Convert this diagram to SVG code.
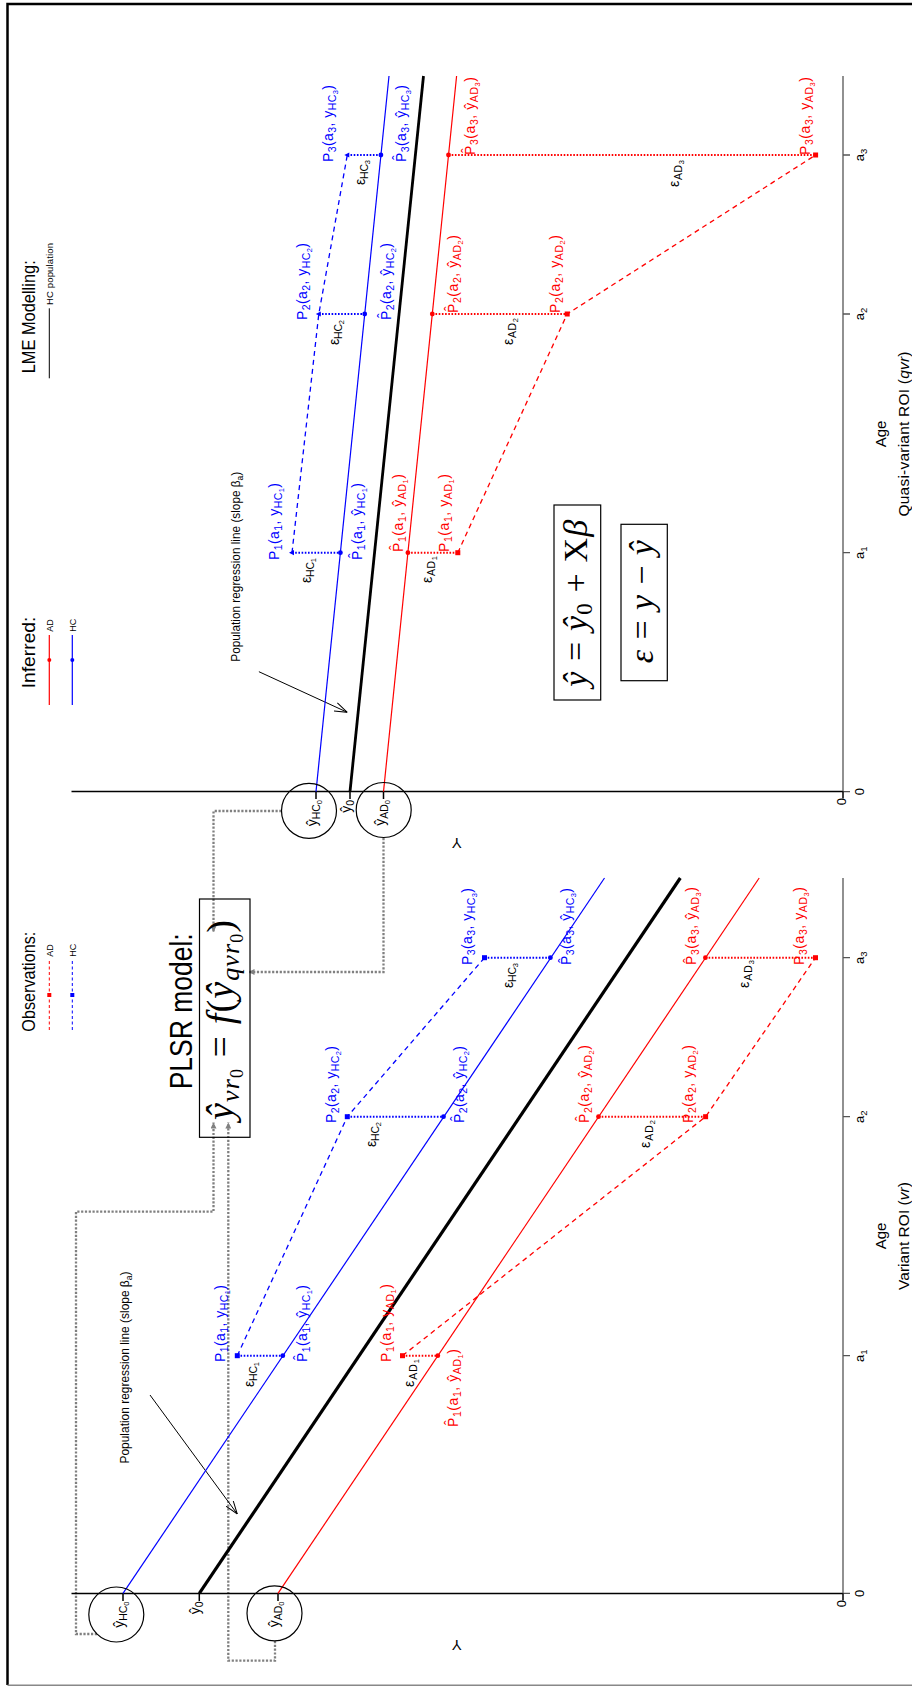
<svg xmlns="http://www.w3.org/2000/svg" width="912" height="1686" viewBox="0 0 912 1686">
<style>
.t{font-family:"Liberation Sans",Arial,sans-serif}
.lb{font-size:14px}
.s{font-size:10.5px}
.ss{font-size:7.5px}
.hc{fill:#0000ff}.ad{fill:#ff0000}.k{fill:#000}
.mth{font-family:"Liberation Serif","Times New Roman",serif}
.gr{fill:none;stroke:#808080;stroke-width:2.3;stroke-dasharray:2.2 1.6}
.res{fill:none;stroke-width:2;stroke-dasharray:1.6 1.6}
.obs{fill:none;stroke-width:1.3;stroke-dasharray:5 4}
.ln{fill:none;stroke-width:1.2}
.thick{fill:none;stroke:#000;stroke-width:3.2}
.ax{fill:none;stroke:#000;stroke-width:1.5}
.xax{fill:none;stroke:#555;stroke-width:1.3}
.ell{fill:none;stroke:#000;stroke-width:1.2}
.box{fill:none;stroke:#000;stroke-width:1.2}
</style>
<defs>
<marker id="ga" viewBox="0 0 6 6" refX="6" refY="3" markerWidth="6" markerHeight="6" markerUnits="userSpaceOnUse" orient="auto"><path d="M0,0 L6,3 L0,6 z" fill="#808080"/></marker>
<marker id="oa" viewBox="0 0 13 10" refX="13" refY="5" markerWidth="13" markerHeight="10" markerUnits="userSpaceOnUse" orient="auto"><path d="M0,0.5 L13,5 L0,9.5" fill="none" stroke="#000" stroke-width="1"/></marker>
</defs>
<rect width="912" height="1686" fill="#fff"/>
<g id="frame">
<path d="M912,4 H7.5 V1685" fill="none" stroke="#000" stroke-width="2.5"/>
<path d="M7.5,1685.3 H912" fill="none" stroke="#888" stroke-width="1.5"/>
</g>

<g id="connectors">
<path class="gr" d="M281.5,811 H213.5 V932" marker-end="url(#ga)"/>
<path class="gr" d="M383.5,838 V972 H248.5" marker-end="url(#ga)"/>
<path class="gr" d="M97,1634 H76 V1211.7 H213.5 V1122.5" marker-end="url(#ga)"/>
<path class="gr" d="M275,1641 V1660.7 H228.3 V1122.5" marker-end="url(#ga)"/>
<path d="M258.9,671.7 L347.3,712.3" stroke="#000" stroke-width="1" marker-end="url(#oa)"/>
<path d="M150,1395 L237.3,1514" stroke="#000" stroke-width="1" marker-end="url(#oa)"/>
</g>

<g id="upper-axes">
<path class="ax" d="M71.5,791.6 H843"/>
<path class="xax" d="M843,76 V791.6"/>
<path class="xax" d="M843,791.6 h7 M843,552.7 h7 M843,314 h7 M843,155 h7"/>
<path class="ax" d="M316,791.6 v7.5 M350,791.6 v7.5 M383.5,791.6 v7.5 M843,791.6 v7"/>
<g class="t" font-size="13" text-anchor="middle">
<text transform="translate(864,791.6) rotate(-90)">0</text>
<text transform="translate(864,552.7) rotate(-90)">a<tspan font-size="9.5" dy="3">1</tspan></text>
<text transform="translate(864,314) rotate(-90)">a<tspan font-size="9.5" dy="3">2</tspan></text>
<text transform="translate(864,155) rotate(-90)">a<tspan font-size="9.5" dy="3">3</tspan></text>
</g>
<g class="t lb" text-anchor="end">
<text transform="translate(317,800) rotate(-90)">ŷ<tspan class="s" dy="3">HC</tspan><tspan class="ss" dy="2">0</tspan></text>
<text transform="translate(351,800) rotate(-90)">ŷ<tspan class="s" dy="3">0</tspan></text>
<text transform="translate(384.5,800) rotate(-90)">ŷ<tspan class="s" dy="3">AD</tspan><tspan class="ss" dy="2">0</tspan></text>
<text transform="translate(846,798) rotate(-90)" font-size="13">0</text>
</g>
<text class="t" font-size="15" text-anchor="middle" dominant-baseline="central" transform="translate(456.7,843.3) rotate(180)">Y</text>
<text class="t" font-size="15" text-anchor="middle" transform="translate(886,434) rotate(-90)">Age</text>
<text class="t" font-size="15.5" text-anchor="middle" textLength="165" transform="translate(909,434) rotate(-90)">Quasi-variant ROI (<tspan font-style="italic">qvr</tspan>)</text>
</g>

<g id="lower-axes">
<path class="ax" d="M71.5,1593.4 H843"/>
<path class="xax" d="M843,878 V1593.4"/>
<path class="xax" d="M843,1593.4 h7 M843,1355.7 h7 M843,1116.7 h7 M843,957.7 h7"/>
<path class="ax" d="M123,1593.4 v7.5 M199.3,1593.4 v7.5 M278,1593.4 v7.5 M843,1593.4 v7"/>
<g class="t" font-size="13" text-anchor="middle">
<text transform="translate(864,1593.4) rotate(-90)">0</text>
<text transform="translate(864,1355.7) rotate(-90)">a<tspan font-size="9.5" dy="3">1</tspan></text>
<text transform="translate(864,1116.7) rotate(-90)">a<tspan font-size="9.5" dy="3">2</tspan></text>
<text transform="translate(864,957.7) rotate(-90)">a<tspan font-size="9.5" dy="3">3</tspan></text>
</g>
<g class="t lb" text-anchor="end">
<text transform="translate(124,1601.5) rotate(-90)">ŷ<tspan class="s" dy="3">HC</tspan><tspan class="ss" dy="2">0</tspan></text>
<text transform="translate(200.3,1601.5) rotate(-90)">ŷ<tspan class="s" dy="3">0</tspan></text>
<text transform="translate(279,1601.5) rotate(-90)">ŷ<tspan class="s" dy="3">AD</tspan><tspan class="ss" dy="2">0</tspan></text>
<text transform="translate(846,1600) rotate(-90)" font-size="13">0</text>
</g>
<text class="t" font-size="15" text-anchor="middle" dominant-baseline="central" transform="translate(456.7,1645.3) rotate(180)">Y</text>
<text class="t" font-size="15" text-anchor="middle" transform="translate(886,1236) rotate(-90)">Age</text>
<text class="t" font-size="15.5" text-anchor="middle" textLength="108" transform="translate(909,1236) rotate(-90)">Variant ROI (<tspan font-style="italic">vr</tspan>)</text>
</g>

<g id="upper-lines">
<path class="ln" stroke="#0000ff" d="M316,791.6 L389,76"/>
<path class="thick" d="M350,791.6 L423.5,76" style="stroke-width:2.8"/>
<path class="ln" stroke="#ff0000" d="M383.5,791.6 L456.6,76"/>
<path class="obs" stroke="#0000ff" d="M292,552.7 L318.8,314 L347.3,155"/>
<path class="obs" stroke="#ff0000" d="M457.8,552.7 L567.2,314 L815.6,155"/>
<path class="res" stroke="#0000ff" d="M292,552.7 H340.4 M318.8,314 H364.7 M347.3,155 H380.9"/>
<path class="res" stroke="#ff0000" d="M407.9,552.7 H457.8 M432.3,314 H567.2 M448.5,155 H815.6"/>
<g fill="#0000ff">
<circle cx="340.4" cy="552.7" r="2.4"/><circle cx="364.7" cy="314" r="2.4"/><circle cx="380.9" cy="155" r="2.4"/>
<path d="M289,552.7 l5,-2.6 v5.2 z M315.8,314 l5,-2.6 v5.2 z M344.3,155 l5,-2.6 v5.2 z"/>
</g>
<g fill="#ff0000">
<circle cx="407.9" cy="552.7" r="2.4"/><circle cx="432.3" cy="314" r="2.4"/><circle cx="448.5" cy="155" r="2.4"/>
<rect x="455.3" y="550.2" width="5" height="5"/><rect x="564.7" y="311.5" width="5" height="5"/><rect x="813.1" y="152.5" width="5" height="5"/>
</g>
</g>

<g id="lower-lines">
<path class="ln" stroke="#0000ff" d="M123,1593.4 L604.5,878"/>
<path class="thick" d="M199.3,1593.4 L680.3,878"/>
<path class="ln" stroke="#ff0000" d="M278,1593.4 L759.2,878"/>
<path class="obs" stroke="#0000ff" d="M237.3,1355.7 L347.3,1116.7 L484.5,957.7"/>
<path class="obs" stroke="#ff0000" d="M402.5,1355.7 L705.6,1116.7 L815.5,957.7"/>
<path class="res" stroke="#0000ff" d="M237.3,1355.7 H282.8 M347.3,1116.7 H443.5 M484.5,957.7 H550.4"/>
<path class="res" stroke="#ff0000" d="M402.5,1355.7 H437.8 M598.5,1116.7 H705.6 M705.4,957.7 H815.5"/>
<g fill="#0000ff">
<circle cx="282.8" cy="1355.7" r="2.4"/><circle cx="443.5" cy="1116.7" r="2.4"/><circle cx="550.4" cy="957.7" r="2.4"/>
<rect x="234.8" y="1353.2" width="5" height="5"/><rect x="344.8" y="1114.2" width="5" height="5"/><rect x="482" y="955.2" width="5" height="5"/>
</g>
<g fill="#ff0000">
<circle cx="437.8" cy="1355.7" r="2.4"/><circle cx="598.5" cy="1116.7" r="2.4"/><circle cx="705.4" cy="957.7" r="2.4"/>
<rect x="400" y="1353.2" width="5" height="5"/><rect x="703.1" y="1114.2" width="5" height="5"/><rect x="813" y="955.2" width="5" height="5"/>
</g>
</g>

<g id="node-upper-hc0"><circle class="ell" cx="309" cy="810.8" r="27.5"/></g>
<g id="node-upper-ad0"><circle class="ell" cx="383.7" cy="810" r="27.5"/></g>
<g id="node-lower-hc0"><circle class="ell" cx="116.3" cy="1614.5" r="27.5"/></g>
<g id="node-lower-ad0"><circle class="ell" cx="274.5" cy="1613.3" r="27.5"/></g>

<g id="upper-labels" class="t lb">
<text class="hc" textLength="77" transform="translate(332.5,162) rotate(-90)">P<tspan class="s" dy="3">3</tspan><tspan dy="-3">(a</tspan><tspan class="s" dy="3">3</tspan><tspan dy="-3">, y</tspan><tspan class="s" dy="3">HC</tspan><tspan class="ss" dy="2">3</tspan><tspan dy="-5">)</tspan></text>
<text class="hc" textLength="77" transform="translate(405.5,162) rotate(-90)">P̂<tspan class="s" dy="3">3</tspan><tspan dy="-3">(a</tspan><tspan class="s" dy="3">3</tspan><tspan dy="-3">, ŷ</tspan><tspan class="s" dy="3">HC</tspan><tspan class="ss" dy="2">3</tspan><tspan dy="-5">)</tspan></text>
<text class="hc" textLength="77" transform="translate(306.5,320) rotate(-90)">P<tspan class="s" dy="3">2</tspan><tspan dy="-3">(a</tspan><tspan class="s" dy="3">2</tspan><tspan dy="-3">, y</tspan><tspan class="s" dy="3">HC</tspan><tspan class="ss" dy="2">2</tspan><tspan dy="-5">)</tspan></text>
<text class="hc" textLength="77" transform="translate(390.5,320) rotate(-90)">P̂<tspan class="s" dy="3">2</tspan><tspan dy="-3">(a</tspan><tspan class="s" dy="3">2</tspan><tspan dy="-3">, ŷ</tspan><tspan class="s" dy="3">HC</tspan><tspan class="ss" dy="2">2</tspan><tspan dy="-5">)</tspan></text>
<text class="hc" textLength="77" transform="translate(278.5,560) rotate(-90)">P<tspan class="s" dy="3">1</tspan><tspan dy="-3">(a</tspan><tspan class="s" dy="3">1</tspan><tspan dy="-3">, y</tspan><tspan class="s" dy="3">HC</tspan><tspan class="ss" dy="2">1</tspan><tspan dy="-5">)</tspan></text>
<text class="hc" textLength="77" transform="translate(361.5,560) rotate(-90)">P̂<tspan class="s" dy="3">1</tspan><tspan dy="-3">(a</tspan><tspan class="s" dy="3">1</tspan><tspan dy="-3">, ŷ</tspan><tspan class="s" dy="3">HC</tspan><tspan class="ss" dy="2">1</tspan><tspan dy="-5">)</tspan></text>
<text class="k" textLength="25" transform="translate(364.5,185) rotate(-90)">ε<tspan class="s" dy="3">HC</tspan><tspan class="ss" dy="2">3</tspan></text>
<text class="k" textLength="25" transform="translate(338.5,345) rotate(-90)">ε<tspan class="s" dy="3">HC</tspan><tspan class="ss" dy="2">2</tspan></text>
<text class="k" textLength="25" transform="translate(310.5,583) rotate(-90)">ε<tspan class="s" dy="3">HC</tspan><tspan class="ss" dy="2">1</tspan></text>
<text class="ad" textLength="78" transform="translate(474.5,155) rotate(-90)">P̂<tspan class="s" dy="3">3</tspan><tspan dy="-3">(a</tspan><tspan class="s" dy="3">3</tspan><tspan dy="-3">, ŷ</tspan><tspan class="s" dy="3">AD</tspan><tspan class="ss" dy="2">3</tspan><tspan dy="-5">)</tspan></text>
<text class="ad" textLength="78" transform="translate(809.5,155) rotate(-90)">P<tspan class="s" dy="3">3</tspan><tspan dy="-3">(a</tspan><tspan class="s" dy="3">3</tspan><tspan dy="-3">, y</tspan><tspan class="s" dy="3">AD</tspan><tspan class="ss" dy="2">3</tspan><tspan dy="-5">)</tspan></text>
<text class="ad" textLength="78" transform="translate(457.5,313) rotate(-90)">P̂<tspan class="s" dy="3">2</tspan><tspan dy="-3">(a</tspan><tspan class="s" dy="3">2</tspan><tspan dy="-3">, ŷ</tspan><tspan class="s" dy="3">AD</tspan><tspan class="ss" dy="2">2</tspan><tspan dy="-5">)</tspan></text>
<text class="ad" textLength="78" transform="translate(559.5,313) rotate(-90)">P<tspan class="s" dy="3">2</tspan><tspan dy="-3">(a</tspan><tspan class="s" dy="3">2</tspan><tspan dy="-3">, y</tspan><tspan class="s" dy="3">AD</tspan><tspan class="ss" dy="2">2</tspan><tspan dy="-5">)</tspan></text>
<text class="ad" textLength="78" transform="translate(402.5,552) rotate(-90)">P̂<tspan class="s" dy="3">1</tspan><tspan dy="-3">(a</tspan><tspan class="s" dy="3">1</tspan><tspan dy="-3">, ŷ</tspan><tspan class="s" dy="3">AD</tspan><tspan class="ss" dy="2">1</tspan><tspan dy="-5">)</tspan></text>
<text class="ad" textLength="78" transform="translate(448.5,552) rotate(-90)">P<tspan class="s" dy="3">1</tspan><tspan dy="-3">(a</tspan><tspan class="s" dy="3">1</tspan><tspan dy="-3">, y</tspan><tspan class="s" dy="3">AD</tspan><tspan class="ss" dy="2">1</tspan><tspan dy="-5">)</tspan></text>
<text class="k" textLength="27" transform="translate(678.5,187) rotate(-90)">ε<tspan class="s" dy="3">AD</tspan><tspan class="ss" dy="2">3</tspan></text>
<text class="k" textLength="27" transform="translate(512.5,345) rotate(-90)">ε<tspan class="s" dy="3">AD</tspan><tspan class="ss" dy="2">2</tspan></text>
<text class="k" textLength="27" transform="translate(431.5,583) rotate(-90)">ε<tspan class="s" dy="3">AD</tspan><tspan class="ss" dy="2">1</tspan></text>
<text class="k" font-size="12.5" textLength="190" lengthAdjust="spacingAndGlyphs" transform="translate(239.5,661.7) rotate(-90)">Population regression line (slope β<tspan font-size="9" dy="3">a</tspan><tspan dy="-3">)</tspan></text>
</g>

<g id="lower-labels" class="t lb">
<text class="hc" textLength="77" transform="translate(472,965) rotate(-90)">P<tspan class="s" dy="3">3</tspan><tspan dy="-3">(a</tspan><tspan class="s" dy="3">3</tspan><tspan dy="-3">, y</tspan><tspan class="s" dy="3">HC</tspan><tspan class="ss" dy="2">3</tspan><tspan dy="-5">)</tspan></text>
<text class="hc" textLength="77" transform="translate(571,965) rotate(-90)">P̂<tspan class="s" dy="3">3</tspan><tspan dy="-3">(a</tspan><tspan class="s" dy="3">3</tspan><tspan dy="-3">, ŷ</tspan><tspan class="s" dy="3">HC</tspan><tspan class="ss" dy="2">3</tspan><tspan dy="-5">)</tspan></text>
<text class="hc" textLength="77" transform="translate(336,1123) rotate(-90)">P<tspan class="s" dy="3">2</tspan><tspan dy="-3">(a</tspan><tspan class="s" dy="3">2</tspan><tspan dy="-3">, y</tspan><tspan class="s" dy="3">HC</tspan><tspan class="ss" dy="2">2</tspan><tspan dy="-5">)</tspan></text>
<text class="hc" textLength="77" transform="translate(463.5,1123) rotate(-90)">P̂<tspan class="s" dy="3">2</tspan><tspan dy="-3">(a</tspan><tspan class="s" dy="3">2</tspan><tspan dy="-3">, ŷ</tspan><tspan class="s" dy="3">HC</tspan><tspan class="ss" dy="2">2</tspan><tspan dy="-5">)</tspan></text>
<text class="hc" textLength="77" transform="translate(224.5,1362) rotate(-90)">P<tspan class="s" dy="3">1</tspan><tspan dy="-3">(a</tspan><tspan class="s" dy="3">1</tspan><tspan dy="-3">, y</tspan><tspan class="s" dy="3">HC</tspan><tspan class="ss" dy="2">1</tspan><tspan dy="-5">)</tspan></text>
<text class="hc" textLength="77" transform="translate(306.5,1362) rotate(-90)">P̂<tspan class="s" dy="3">1</tspan><tspan dy="-3">(a</tspan><tspan class="s" dy="3">1</tspan><tspan dy="-3">, ŷ</tspan><tspan class="s" dy="3">HC</tspan><tspan class="ss" dy="2">1</tspan><tspan dy="-5">)</tspan></text>
<text class="k" textLength="25" transform="translate(512.5,988) rotate(-90)">ε<tspan class="s" dy="3">HC</tspan><tspan class="ss" dy="2">3</tspan></text>
<text class="k" textLength="25" transform="translate(375.8,1147) rotate(-90)">ε<tspan class="s" dy="3">HC</tspan><tspan class="ss" dy="2">2</tspan></text>
<text class="k" textLength="25" transform="translate(253.5,1387) rotate(-90)">ε<tspan class="s" dy="3">HC</tspan><tspan class="ss" dy="2">1</tspan></text>
<text class="ad" textLength="78" transform="translate(696,965) rotate(-90)">P̂<tspan class="s" dy="3">3</tspan><tspan dy="-3">(a</tspan><tspan class="s" dy="3">3</tspan><tspan dy="-3">, ŷ</tspan><tspan class="s" dy="3">AD</tspan><tspan class="ss" dy="2">3</tspan><tspan dy="-5">)</tspan></text>
<text class="ad" textLength="78" transform="translate(803.5,965) rotate(-90)">P<tspan class="s" dy="3">3</tspan><tspan dy="-3">(a</tspan><tspan class="s" dy="3">3</tspan><tspan dy="-3">, y</tspan><tspan class="s" dy="3">AD</tspan><tspan class="ss" dy="2">3</tspan><tspan dy="-5">)</tspan></text>
<text class="ad" textLength="78" transform="translate(588.5,1123) rotate(-90)">P̂<tspan class="s" dy="3">2</tspan><tspan dy="-3">(a</tspan><tspan class="s" dy="3">2</tspan><tspan dy="-3">, ŷ</tspan><tspan class="s" dy="3">AD</tspan><tspan class="ss" dy="2">2</tspan><tspan dy="-5">)</tspan></text>
<text class="ad" textLength="78" transform="translate(693,1123) rotate(-90)">P<tspan class="s" dy="3">2</tspan><tspan dy="-3">(a</tspan><tspan class="s" dy="3">2</tspan><tspan dy="-3">, y</tspan><tspan class="s" dy="3">AD</tspan><tspan class="ss" dy="2">2</tspan><tspan dy="-5">)</tspan></text>
<text class="ad" textLength="78" transform="translate(390.5,1362) rotate(-90)">P<tspan class="s" dy="3">1</tspan><tspan dy="-3">(a</tspan><tspan class="s" dy="3">1</tspan><tspan dy="-3">, y</tspan><tspan class="s" dy="3">AD</tspan><tspan class="ss" dy="2">1</tspan><tspan dy="-5">)</tspan></text>
<text class="ad" textLength="78" transform="translate(457.5,1427) rotate(-90)">P̂<tspan class="s" dy="3">1</tspan><tspan dy="-3">(a</tspan><tspan class="s" dy="3">1</tspan><tspan dy="-3">, ŷ</tspan><tspan class="s" dy="3">AD</tspan><tspan class="ss" dy="2">1</tspan><tspan dy="-5">)</tspan></text>
<text class="k" textLength="28" transform="translate(748.5,988) rotate(-90)">ε<tspan class="s" dy="3">AD</tspan><tspan class="ss" dy="2">3</tspan></text>
<text class="k" textLength="28" transform="translate(649.5,1148) rotate(-90)">ε<tspan class="s" dy="3">AD</tspan><tspan class="ss" dy="2">2</tspan></text>
<text class="k" textLength="28" transform="translate(413.5,1387) rotate(-90)">ε<tspan class="s" dy="3">AD</tspan><tspan class="ss" dy="2">1</tspan></text>
<text class="k" font-size="12.5" textLength="192" lengthAdjust="spacingAndGlyphs" transform="translate(129,1463.5) rotate(-90)">Population regression line (slope β<tspan font-size="9" dy="3">a</tspan><tspan dy="-3">)</tspan></text>
</g>

<g id="legend-lme">
<text class="t" font-size="18" textLength="113" lengthAdjust="spacingAndGlyphs" transform="translate(35,373.3) rotate(-90)">LME Modelling:</text>
<path d="M49.3,378.3 V308.3" stroke="#000" stroke-width="1"/>
<text class="t" font-size="9.5" textLength="62" transform="translate(53,305) rotate(-90)">HC population</text>
</g>
<g id="legend-inferred">
<text class="t" font-size="18" textLength="71.7" lengthAdjust="spacingAndGlyphs" transform="translate(35,688.3) rotate(-90)">Inferred:</text>
<path d="M49.3,705 V635" stroke="#ff0000" stroke-width="1.2"/>
<circle cx="49.3" cy="660" r="2" fill="#ff0000"/>
<path d="M72.3,705 V635" stroke="#0000ff" stroke-width="1.2"/>
<circle cx="72.3" cy="660" r="2" fill="#0000ff"/>
<text class="t" font-size="9" transform="translate(53,631.7) rotate(-90)">AD</text>
<text class="t" font-size="9" transform="translate(76,631.7) rotate(-90)">HC</text>
</g>
<g id="legend-observations">
<text class="t" font-size="18" textLength="100" lengthAdjust="spacingAndGlyphs" transform="translate(35,1031.7) rotate(-90)">Observations:</text>
<path d="M49.3,1030 V960" stroke="#ff0000" stroke-width="1" stroke-dasharray="3 2.5"/>
<rect x="47.3" y="993" width="4" height="4" fill="#ff0000"/>
<path d="M72.3,1030 V960" stroke="#0000ff" stroke-width="1" stroke-dasharray="3 2.5"/>
<rect x="70.3" y="993" width="4" height="4" fill="#0000ff"/>
<text class="t" font-size="9" transform="translate(53,956.7) rotate(-90)">AD</text>
<text class="t" font-size="9" transform="translate(76,956.7) rotate(-90)">HC</text>
</g>

<g id="node-plsr">
<text class="t" font-size="31" textLength="156" lengthAdjust="spacingAndGlyphs" transform="translate(191.5,1089.3) rotate(-90)">PLSR model:</text>
<rect class="box" x="199.5" y="899" width="50.5" height="238.3"/>
<text class="mth" font-size="38" text-anchor="middle" textLength="200" transform="translate(233,1020) rotate(-90)"><tspan font-style="italic">ŷ</tspan><tspan font-size="26" font-style="italic" dy="6">vr</tspan><tspan font-size="18" dy="4">0</tspan><tspan dy="-10"> = </tspan><tspan font-style="italic">f</tspan><tspan>(</tspan><tspan font-style="italic">ŷ</tspan><tspan font-size="26" font-style="italic" dy="6">qvr</tspan><tspan font-size="18" dy="4">0</tspan><tspan dy="-10">)</tspan></text>
</g>
<g id="node-eq1">
<rect class="box" x="554" y="505" width="46.7" height="195"/>
<text class="mth" font-size="34" text-anchor="middle" textLength="167" transform="translate(587,603.3) rotate(-90)"><tspan font-style="italic">ŷ</tspan> = <tspan font-style="italic">ŷ</tspan><tspan font-size="23" dy="5">0</tspan><tspan dy="-5"> + X</tspan><tspan font-style="italic">β</tspan></text>
</g>
<g id="node-eq2">
<rect class="box" x="621" y="524.3" width="46.3" height="156.4"/>
<text class="mth" font-size="34" text-anchor="middle" textLength="123" transform="translate(653,601.7) rotate(-90)"><tspan font-style="italic">ε</tspan> = <tspan font-style="italic">y</tspan> − <tspan font-style="italic">ŷ</tspan></text>
</g>
</svg>
